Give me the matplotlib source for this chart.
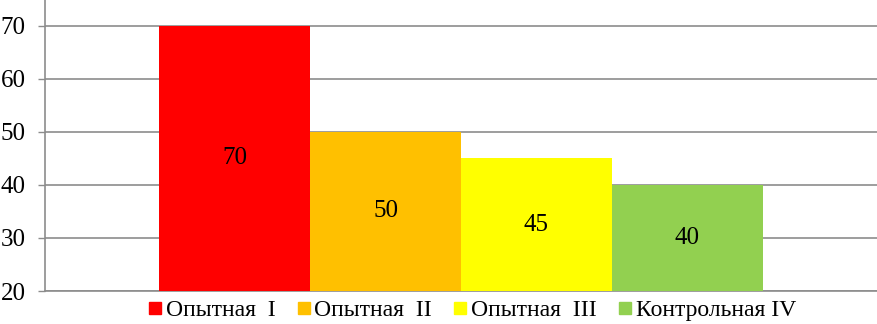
import matplotlib.pyplot as plt
from matplotlib.lines import Line2D

# Chart data
groups = ['Опытная  I', 'Опытная  II', 'Опытная  III', 'Контрольная IV']
values = [70, 50, 45, 40]
colors = ['#FF0000', '#FFC000', '#FFFF00', '#92D050']
yticks = [20, 30, 40, 50, 60, 70]

plt.rcParams['font.family'] = ['Liberation Serif', 'DejaVu Serif']

fig = plt.figure(figsize=(8.77, 3.24), dpi=100)
ax = fig.add_axes([45/877, 1 - 291/324, 1 - 45/877, 291/324])

ymin, ymax = 20, 74.9
pos = list(range(len(values)))
ax.bar(pos, [v - ymin for v in values], bottom=ymin, width=1.0,
       color=colors, zorder=3)

# value labels in the middle of the visible bar
for x, v in zip(pos, values):
    ax.text(x, (ymin + v) / 2, str(v), ha='center', va='center',
            fontsize=18, zorder=4)

ax.set_xlim(-1.255, 4.255)
ax.set_ylim(ymin, ymax)
ax.set_yticks(yticks)
ax.set_xticks([])
ax.tick_params(axis='y', labelsize=18, length=5, width=1, color='#8c8c8c', pad=9)
ax.grid(axis='y', color='#8c8c8c', lw=1.2, zorder=0)
for s in ['top', 'right']:
    ax.spines[s].set_visible(False)
for s in ['left', 'bottom']:
    ax.spines[s].set_color('#8c8c8c')
    ax.spines[s].set_linewidth(1.2)

handles = [Line2D([], [], marker='s', ls='none', color=c, markersize=9)
           for c in colors]
fig.legend(handles, groups, loc='center', bbox_to_anchor=(472/877, 0.043),
           ncol=4, frameon=False, fontsize=17, handlelength=0.6,
           handletextpad=0.15, columnspacing=0.9, borderpad=0)

fig.savefig('out.png', dpi=100)
